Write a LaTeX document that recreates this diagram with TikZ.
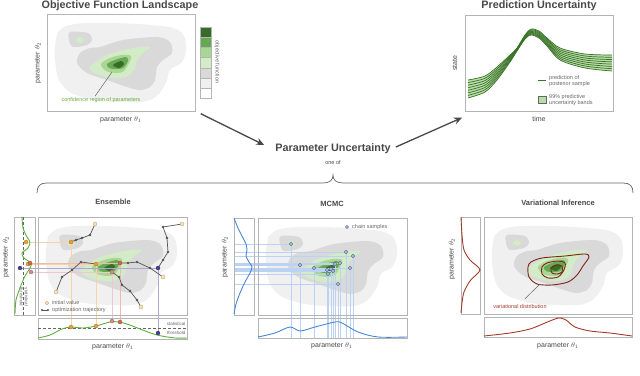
\documentclass[tikz,border=0pt]{standalone}
\usepackage{fontspec}
\setmainfont{Liberation Sans}
\usepackage{xcolor}
\usepackage{tikz}
\usetikzlibrary{calc,arrows.meta,positioning}
\definecolor{levelA}{HTML}{F0F0F0}
\definecolor{levelB}{HTML}{D9D9D9}
\definecolor{greenpale}{HTML}{D3EBC6}
\definecolor{greenlight}{HTML}{A9D595}
\definecolor{greenmid}{HTML}{67A852}
\definecolor{greendark}{HTML}{386B2A}
\definecolor{framegray}{HTML}{B4B4B4}
\definecolor{figink}{HTML}{484848}
\definecolor{inkmuted}{HTML}{666666}
\definecolor{curvegreen}{HTML}{3A7229}
\definecolor{bandgreen}{HTML}{B9DDA9}
\definecolor{densgreen}{HTML}{5FAE3E}
\definecolor{conftext}{HTML}{6AAA3A}
\definecolor{initfill}{HTML}{F6E3C3}
\definecolor{initedge}{HTML}{C9A26B}
\definecolor{trajgray}{HTML}{555555}
\definecolor{endorange}{HTML}{EFA035}
\definecolor{endred}{HTML}{D2694E}
\definecolor{endpink}{HTML}{D88A8A}
\definecolor{endpurple}{HTML}{4B3C94}
\definecolor{mcmcblue}{HTML}{4A86D4}
\definecolor{guideblue}{HTML}{BCD2F2}
\definecolor{samplefill}{HTML}{A9BCE6}
\definecolor{sampleedge}{HTML}{52648F}
\definecolor{vired}{HTML}{7E2418}
\definecolor{vicurve}{HTML}{A33A2A}

\newcommand{\landscape}{%
  \fill[levelA] plot[smooth cycle, tension=0.7] coordinates {(13,16) (28,10) (63,9) (103,11) (131,16) (139,31) (135,48) (123,56) (118,71) (103,86) (73,88) (38,84) (15,71) (8,46) (9,26)};
  \fill[levelB] plot[smooth cycle] coordinates {(23,18) (41,19) (45,26) (40,31) (26,33) (22,26)};
  \fill[greenpale] (33,26) ellipse (4pt and 3pt);
  \fill[levelB] plot[smooth cycle] coordinates {(53,33) (76,26) (110,23) (123,28) (125,39) (116,46) (110,53) (108,66) (103,73) (93,76) (80,73) (60,66) (40,59) (30,49) (33,39) (43,34)};
  \fill[greenpale] plot[smooth cycle] coordinates {(43,53) (60,41) (86,34) (103,33) (96,39) (90,46) (88,54) (83,61) (73,64) (60,63) (48,59)};
  \fill[greenlight] plot[smooth cycle] coordinates {(54,50) (63,44) (75,41) (84,42) (82,49) (77,57) (70,59) (59,57)};
  \fill[greenmid] plot[smooth cycle] coordinates {(60,50) (68,46) (79,43) (81,47) (76,54) (68,55) (62,54)};
  \fill[greendark] plot[smooth cycle] coordinates {(66,51) (74,47) (77,50) (72,54)};
}

\begin{document}
\begin{tikzpicture}[x=1pt, y=-1pt,
    maintitle/.style={font=\fontsize{10.8}{13}\selectfont\bfseries, text=figink, inner sep=1pt},
    paneltitle/.style={font=\fontsize{7.5}{9}\selectfont\bfseries, text=figink, inner sep=1pt},
    axislabel/.style={font=\fontsize{7}{8}\selectfont, text=figink, inner sep=1pt},
    smalltext/.style={font=\fontsize{5.5}{6.5}\selectfont, text=inkmuted, inner sep=1pt},
    tinytext/.style={font=\fontsize{4.5}{5}\selectfont, text=inkmuted, inner sep=0.5pt, align=center},
    panelbox/.style={draw=framegray, line width=0.7pt, inner sep=0pt, anchor=north west},
    pointer/.style={inkmuted, line width=0.5pt},
    flowarrow/.style={-{Stealth[length=8pt, width=7pt, fill=figink!35]}, figink, line width=1.3pt},
    densline/.style={line width=0.9pt},
    guide/.style={line width=0.5pt},
    trajline/.style={trajgray, line width=0.7pt},
  ]
  \useasboundingbox (0,0) rectangle (640,375);

  % objective function landscape
  \node[maintitle] (objtitle) at (120,6) {Objective Function Landscape};
  \begin{scope}[shift={(47,14)}]
    \landscape
  \end{scope}
  \node[panelbox, minimum width=148pt, minimum height=97pt] (objframe) at (47,14) {};
  \foreach \c [count=\i from 0] in {greendark,greenmid,greenlight,greenpale,levelB,levelA,white}
    \filldraw[fill=\c, draw=framegray, line width=0.4pt] (200,{27+10.2*\i}) rectangle ++(11,10.2);
  \node[smalltext, rotate=-90] (objbarlabel) at (217,62) {objective function};
  \node[axislabel, rotate=90] (objylabel) at (38,63) {parameter $\theta_2$};
  \node[axislabel] (objxlabel) at (121,120) {parameter $\theta_1$};
  \node[smalltext, text=conftext] (conflabel) at (101,100) {confidence region of parameters};
  \coordinate (confpt) at (112,72);
  \draw[pointer] ([xshift=-6pt]conflabel.north) -- (confpt);

  % prediction uncertainty
  \node[maintitle] (predtitle) at (539,6) {Prediction Uncertainty};
  \begin{scope}[shift={(465,15)}]
    \fill[bandgreen] plot[smooth] coordinates {(3,65) (20,61) (32,52) (45,40) (52,33) (60,20) (66,14) (74,16) (82,23) (95,33) (120,39) (147,40)}
      -- plot[smooth] coordinates {(147,56) (120,53) (95,45) (82,31) (74,23) (66,20) (60,24) (52,36) (45,47) (32,65) (20,77) (3,83)} -- cycle;
    \foreach \k in {0,...,7}{
      \pgfmathsetmacro{\s}{\k/7}
      \draw[curvegreen, line width=0.7pt] plot[smooth] coordinates {(3,{65+18*\s}) (20,{61+16*\s}) (32,{52+13*\s}) (45,{40+7*\s}) (52,{33+3*\s}) (60,{20+4*\s}) (66,{14+6*\s}) (74,{16+7*\s}) (82,{23+8*\s}) (95,{33+12*\s}) (120,{39+14*\s}) (147,{40+16*\s})};
    }
  \end{scope}
  \node[panelbox, minimum width=148pt, minimum height=96pt] (predframe) at (465,15) {};
  \node[axislabel, rotate=90] (predylabel) at (455,63) {state};
  \node[axislabel] (predxlabel) at (539,119) {time};
  \draw[curvegreen, line width=1pt] (538,80) -- (546,80);
  \node[smalltext, anchor=west, align=left] (predlegA) at (548,81) {prediction of\\posterior sample};
  \filldraw[fill=bandgreen, draw=inkmuted, line width=0.4pt] (538,96) rectangle (546,103);
  \node[smalltext, anchor=west, align=left] (predlegB) at (548,100) {99\% predictive\\uncertainty bands};

  % parameter uncertainty
  \node[maintitle] (paramU) at (333,149) {Parameter Uncertainty};
  \node[smalltext, text=figink] (oneof) at (333,163) {one of};
  \draw[flowarrow] ([shift={(5,2)}]objframe.south east) -- ([shift={(-10,-4)}]paramU.west);
  \draw[flowarrow] ([shift={(4,-2)}]paramU.east) -- ([shift={(-3,6)}]predframe.south west);
  \draw[inkmuted, line width=0.7pt] (37,193) .. controls (37,186) and (40,183) .. (47,183) -- (323,183)
    .. controls (330,183) and (333,180) .. (333,175) .. controls (333,180) and (336,183) .. (343,183)
    -- (623,183) .. controls (630,183) and (633,186) .. (633,193);

  % ensemble
  \node[paneltitle] (enstitle) at (113,202) {Ensemble};
  \begin{scope}[shift={(38,217)}]
    \landscape
  \end{scope}
  \foreach \ex/\ey/\lx/\by/\col in {71/242/26/327/endorange, 96/264/28/326/endorange, 120/263/30/322/endred, 112/272/31/321/endpink, 158/268/20/333/endpurple}{
    \draw[guide, color=\col!45] (\ex,\ey) -- (\lx,\ey);
    \draw[guide, color=\col!45] (\ex,\ey) -- (\ex,\by);
  }
  \node[panelbox, minimum width=149pt, minimum height=98pt] (ensframe) at (38,217) {};
  \node[panelbox, minimum width=21pt, minimum height=98pt] (ensmargy) at (14,217) {};
  \node[panelbox, minimum width=149pt, minimum height=21pt] (ensmargx) at (38,318) {};
  \draw[inkmuted, densely dashed, line width=0.4pt] (23,217) -- (23,315);
  \draw[inkmuted, densely dashed, line width=0.4pt] (38,328) -- (187,328);
  \draw[densline, densgreen] plot[smooth] coordinates {(22,217) (23,228) (27,237) (30,242) (28,248) (22,253) (24,258) (31,263) (30,268) (25,276) (20,288) (16,300) (15,314)};
  \draw[densline, densgreen] plot[smooth] coordinates {(38,338) (50,335) (62,329) (71,327) (83,328) (96,326) (110,322) (119,322) (130,325) (140,329) (157,335) (175,338) (187,338)};
  \node[tinytext, anchor=east] (ensthrA) at (186,324) {statistical};
  \node[tinytext, anchor=east] (ensthrB) at (186,333) {threshold};
  \node[tinytext, rotate=-90] (ensthrC) at (24,297) {statistical\\threshold};
  \draw[trajline] plot coordinates {(95,224) (90,235) (82,238) (76,240) (71,242)};
  \draw[trajline] plot coordinates {(182,224) (163,227) (167,238) (168,252) (163,260) (158,268)};
  \draw[trajline] plot coordinates {(163,277) (150,268) (137,262) (128,263) (120,263)};
  \draw[trajline] plot coordinates {(56,292) (62,277) (72,270) (81,262) (96,264)};
  \draw[trajline] plot coordinates {(141,307) (137,300) (130,291) (122,285) (119,277) (112,272)};
  \foreach \x/\y in {90/235, 82/238, 76/240, 163/227, 167/238, 168/252, 163/260, 150/268, 137/262, 128/263, 62/277, 72/270, 81/262, 137/300, 130/291, 122/285, 119/277}
    \fill[trajgray] (\x,\y) circle (1.4pt);
  \foreach \x/\y in {95/224, 182/224, 163/277, 56/292, 141/307}
    \filldraw[fill=initfill, draw=initedge, line width=0.4pt] (\x,\y) circle (2pt);
  \foreach \ex/\ey/\lx/\by/\col in {71/242/26/327/endorange, 96/264/28/326/endorange, 120/263/30/322/endred, 112/272/31/321/endpink, 158/268/20/333/endpurple}{
    \filldraw[fill=\col, draw=\col!70!black, line width=0.3pt] (\ex,\ey) circle (2pt);
    \filldraw[fill=\col, draw=\col!70!black, line width=0.3pt] (\lx,\ey) circle (2pt);
    \filldraw[fill=\col, draw=\col!70!black, line width=0.3pt] (\ex,\by) circle (2pt);
  }
  \filldraw[fill=initfill, draw=initedge, line width=0.4pt] (47,303) circle (1.8pt);
  \node[smalltext, anchor=west] (enslegA) at (51,303) {initial value};
  \draw[trajline] (42,310) -- (48,310);
  \fill[trajgray] (42,310) circle (1.2pt) (48,310) circle (1.2pt);
  \node[smalltext, anchor=west] (enslegB) at (51,310) {optimization trajectory};
  \node[axislabel, rotate=90] (ensylabel) at (6,257) {parameter $\theta_2$};
  \node[axislabel] (ensxlabel) at (113,347) {parameter $\theta_1$};

  % mcmc
  \node[paneltitle] (mcmctitle) at (332,204) {MCMC};
  \begin{scope}[shift={(258,218)}]
    \landscape
  \end{scope}
  \foreach \sx/\sy in {291/244, 300/265, 314/268, 346/252, 353/256, 350/268, 338/284, 335/264, 340/263, 327/270, 331/269, 333/271, 328/274}{
    \draw[guide, guideblue] (\sx,\sy) -- (234,\sy);
    \draw[guide, guideblue] (\sx,\sy) -- (\sx,338);
  }
  \node[panelbox, minimum width=149pt, minimum height=97pt] (mcmcframe) at (258,218) {};
  \node[panelbox, minimum width=20pt, minimum height=97pt] (mcmcmargy) at (234,218) {};
  \node[panelbox, minimum width=149pt, minimum height=20pt] (mcmcmargx) at (258,318) {};
  \draw[densline, mcmcblue] plot[smooth] coordinates {(234,218) (238,228) (243,238) (246,244) (247,250) (246,256) (249,262) (252,267) (250,273) (245,282) (240,293) (236,304) (234,314)};
  \draw[densline, mcmcblue] plot[smooth] coordinates {(258,337) (275,333) (290,327) (300,331) (315,327) (335,322) (342,323) (358,332) (378,337) (407,337)};
  \foreach \sx/\sy in {291/244, 300/265, 314/268, 346/252, 353/256, 350/268, 338/284, 335/264, 340/263, 327/270, 331/269, 333/271, 328/274}
    \filldraw[fill=samplefill, draw=sampleedge, line width=0.4pt] (\sx,\sy) circle (1.8pt);
  \filldraw[fill=samplefill, draw=sampleedge, line width=0.4pt] (347,227) circle (1.6pt);
  \node[smalltext, anchor=west] (mcmcleg) at (351,227) {chain samples};
  \node[axislabel, rotate=90] (mcmcylabel) at (225,257) {parameter $\theta_2$};
  \node[axislabel] (mcmcxlabel) at (332,346) {parameter $\theta_1$};

  % variational inference
  \node[paneltitle] (vititle) at (558,203) {Variational Inference};
  \begin{scope}[shift={(484,217)}]
    \landscape
  \end{scope}
  \draw[vired, line width=0.9pt] plot[smooth cycle] coordinates {(528,267) (531,262) (542,258) (565,256) (585,254) (589,257) (583,266) (577,275) (568,282) (552,285) (537,284) (529,277)};
  \draw[vired, line width=0.9pt] plot[smooth cycle] coordinates {(542,267) (547,263) (558,261) (565,263) (564,270) (558,277) (548,278) (542,274)};
  \draw[vired, line width=0.9pt] plot[smooth cycle] coordinates {(551,268) (556,265) (562,266) (562,272) (557,274) (552,273)};
  \node[panelbox, minimum width=148pt, minimum height=97pt] (viframe) at (484,217) {};
  \node[panelbox, minimum width=19pt, minimum height=97pt] (vimargy) at (461,217) {};
  \node[panelbox, minimum width=148pt, minimum height=20pt] (vimargx) at (484,317) {};
  \draw[densline, vicurve] plot[smooth] coordinates {(461,217) (462,235) (464,250) (470,260) (477,266) (480,270) (477,274) (470,281) (464,292) (462,303) (461,313)};
  \draw[densline, vicurve] plot[smooth] coordinates {(484,336) (510,333) (530,329) (545,323) (555,319) (560,318) (566,320) (575,327) (590,331) (610,333) (632,336)};
  \node[smalltext, text=vicurve] (vilabel) at (520,307) {variational distribution};
  \coordinate (vipt) at (540,284);
  \draw[pointer] ([shift={(5,-5)}]vilabel.north) -- (vipt);
  \node[axislabel, rotate=90] (viylabel) at (452,259) {parameter $\theta_2$};
  \node[axislabel] (vixlabel) at (558,346) {parameter $\theta_1$};
\end{tikzpicture}
\end{document}
